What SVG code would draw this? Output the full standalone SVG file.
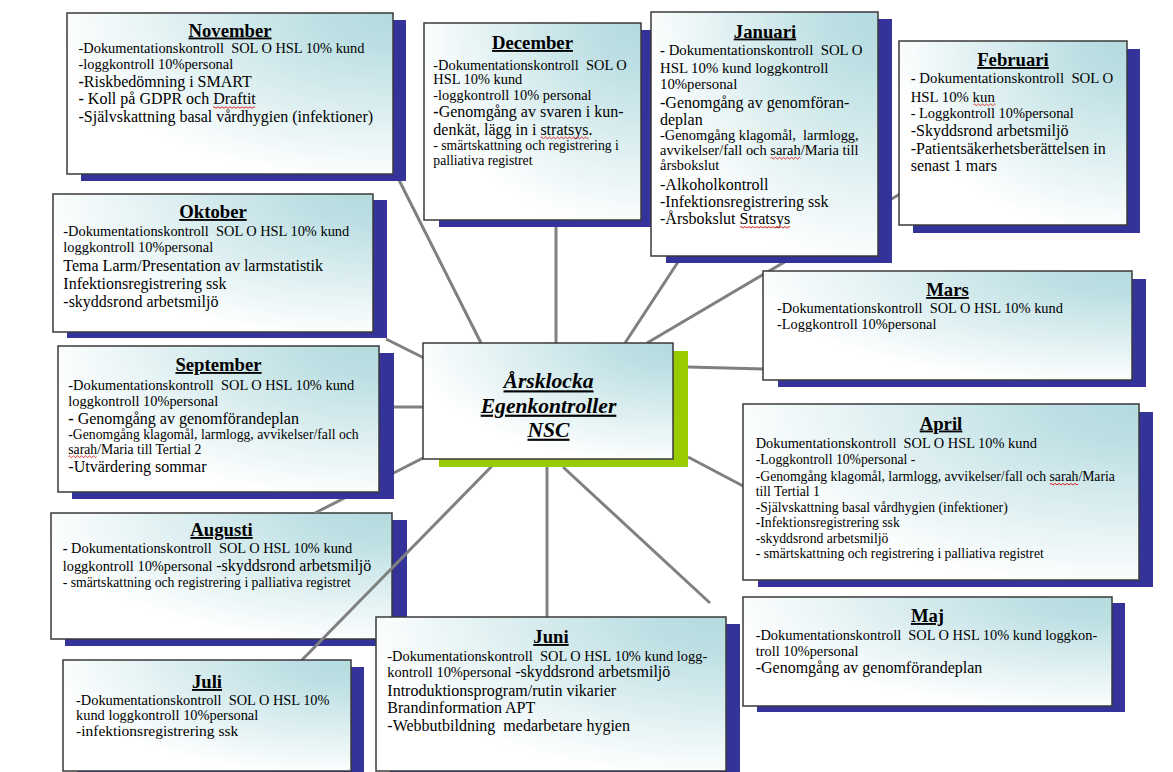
<svg xmlns="http://www.w3.org/2000/svg" width="1173" height="772" viewBox="0 0 1173 772" xml:space="preserve">
<defs>
<radialGradient id="fillg" cx="1" cy="0" r="1.05" fx="1" fy="0" gradientUnits="objectBoundingBox">
<stop offset="0" stop-color="#b5dbdf"/>
<stop offset="0.2" stop-color="#bcdfe3"/>
<stop offset="1" stop-color="#ffffff"/>
</radialGradient>
</defs>
<style>
.box{fill:url(#fillg);stroke:#3a3a3a;stroke-width:1.5}
.sh{fill:#333399}
.shg{fill:#99cc00}
text{font-family:"Liberation Serif","Times New Roman",serif;fill:#000;white-space:pre}
.t{font-size:18.7px;font-weight:bold;text-decoration:underline;text-anchor:middle}
.s{font-size:14.4px}
.xs{font-size:13.7px}
.b{font-size:16px}
.c{font-size:21.6px;font-weight:bold;font-style:italic;text-decoration:underline;text-anchor:middle}
.bd{font-weight:bold}
.con{stroke:#808080;stroke-width:3;fill:none}
.sq{stroke:#e02020;stroke-width:1;fill:none}
</style>
<rect width="1173" height="772" fill="#ffffff"/>

<g id="node-augusti">
<rect class="sh" x="65" y="520" width="342" height="126"/>
<rect class="box" x="51" y="513" width="341" height="126"/>
<text class="t" x="221.5" y="536">Augusti</text>
<text class="s" x="62.7" y="553"><tspan class="bd">-</tspan> Dokumentationskontroll  SOL O HSL 10% kund</text>
<text class="s" x="62.7" y="571">loggkontroll 10%personal <tspan class="b">-skyddsrond arbetsmiljö</tspan></text>
<text class="xs" x="62.7" y="586.5">- smärtskattning och registrering i palliativa registret</text>
</g>

<g id="connectors">
<path class="con" d="M399,180 L481,343"/>
<path class="con" d="M556,226 L556,343"/>
<path class="con" d="M625,343 L678,262"/>
<path class="con" d="M647,343 L900,194"/>
<path class="con" d="M688,367 L765,369"/>
<path class="con" d="M688,457 L745,487"/>
<path class="con" d="M563,467 L710,603"/>
<path class="con" d="M547,462 L547,618"/>
<path class="con" d="M492,466 L300,662"/>
<path class="con" d="M423,458 L315,513"/>
<path class="con" d="M393,407 L424,407"/>
<path class="con" d="M386,339 L424,358"/>
</g>

<g id="node-november">
<rect class="sh" x="81" y="20" width="325" height="161"/>
<rect class="box" x="67" y="13" width="326" height="161"/>
<text class="t" x="230" y="36.5">November</text>
<text class="s" x="78.5" y="53.3">-Dokumentationskontroll  SOL O HSL 10% kund</text>
<text class="s" x="78.5" y="69.3">-loggkontroll 10%personal</text>
<text class="b" x="78.5" y="86.7"><tspan class="bd">-</tspan>Riskbedömning i SMART</text>
<text class="b" x="78.5" y="104.3"><tspan class="bd">-</tspan> Koll på GDPR och Draftit</text>
<text class="b" x="78.5" y="121.7">-Självskattning basal vårdhygien (infektioner)</text>
<path class="sq" d="M213,107.5 q1,-1.6 2,0 t2,0 t2,0 t2,0 t2,0 t2,0 t2,0 t2,0 t2,0 t2,0 t2,0 t2,0 t2,0 t2,0 t2,0 t2,0 t2,0 t2,0 t2,0 t2,0 t2,0"/>
</g>

<g id="node-december">
<rect class="sh" x="439" y="30" width="215" height="197"/>
<rect class="box" x="424" y="23" width="217" height="197"/>
<text class="t" x="532.5" y="49">December</text>
<text class="s" x="433.3" y="69.5">-Dokumentationskontroll  SOL O</text>
<text class="s" x="433.3" y="84">HSL 10% kund</text>
<text class="s" x="433.3" y="99.5">-loggkontroll 10% personal</text>
<text class="b" x="433.3" y="117"><tspan class="bd">-</tspan>Genomgång av svaren i kun-</text>
<text class="b" x="433.3" y="134.5">denkät, lägg in i stratsys.</text>
<text class="xs" x="433.3" y="150">- smärtskattning och registrering i</text>
<text class="xs" x="433.3" y="165">palliativa registret</text>
<path class="sq" d="M540.5,137.8 q1,-1.6 2,0 t2,0 t2,0 t2,0 t2,0 t2,0 t2,0 t2,0 t2,0 t2,0 t2,0 t2,0 t2,0 t2,0 t2,0 t2,0 t2,0 t2,0 t2,0 t2,0 t2,0 t2,0 t2,0 t2,0"/>
</g>

<g id="node-januari">
<rect class="sh" x="666" y="19" width="226" height="244"/>
<rect class="box" x="651" y="12" width="227" height="244"/>
<text class="t" x="765" y="37.5">Januari</text>
<text class="s" x="660" y="55" style="font-size:14.8px"><tspan class="bd">-</tspan> Dokumentationskontroll  SOL O</text>
<text class="s" x="660" y="72.5" style="font-size:14.8px">HSL 10% kund loggkontroll</text>
<text class="s" x="660" y="89" style="font-size:14.8px">10%personal</text>
<text class="b" x="660" y="108">-Genomgång av genomföran-</text>
<text class="b" x="660" y="124.5">deplan</text>
<text class="s" x="660" y="140">-Genomgång klagomål,  larmlogg,</text>
<text class="s" x="660" y="155">avvikelser/fall och sarah/Maria till</text>
<text class="s" x="660" y="170">årsbokslut</text>
<text class="b" x="660" y="190">-Alkoholkontroll</text>
<text class="b" x="660" y="207">-Infektionsregistrering ssk</text>
<text class="b" x="660" y="224">-Årsbokslut Stratsys</text>
<path class="sq" d="M770.5,158.2 q1,-1.6 2,0 t2,0 t2,0 t2,0 t2,0 t2,0 t2,0 t2,0 t2,0 t2,0 t2,0 t2,0 t2,0 t2,0 t2,0"/>
<path class="sq" d="M740,227.3 q1,-1.6 2,0 t2,0 t2,0 t2,0 t2,0 t2,0 t2,0 t2,0 t2,0 t2,0 t2,0 t2,0 t2,0 t2,0 t2,0 t2,0 t2,0 t2,0 t2,0 t2,0 t2,0 t2,0 t2,0 t2,0 t2,0"/>
</g>

<g id="node-februari">
<rect class="sh" x="913" y="49" width="227" height="184"/>
<rect class="box" x="899" y="41" width="228" height="184"/>
<text class="t" x="1013" y="66">Februari</text>
<text class="s" x="910.7" y="83" style="font-size:14.8px"><tspan class="bd">-</tspan> Dokumentationskontroll  SOL O</text>
<text class="s" x="910.7" y="101.5" style="font-size:14.8px">HSL 10% kun</text>
<text class="s" x="910.7" y="118">- Loggkontroll 10%personal</text>
<text class="b" x="910.7" y="135.5">-Skyddsrond arbetsmiljö</text>
<text class="b" x="910.7" y="154">-Patientsäkerhetsberättelsen in</text>
<text class="b" x="910.7" y="171">senast 1 mars</text>
<path class="sq" d="M973.5,104.8 q1,-1.6 2,0 t2,0 t2,0 t2,0 t2,0 t2,0 t2,0 t2,0 t2,0 t2,0 t2,0"/>
</g>

<g id="node-oktober">
<rect class="sh" x="67" y="200" width="320" height="138"/>
<rect class="box" x="53" y="194" width="320" height="138"/>
<text class="t" x="213" y="218">Oktober</text>
<text class="s" x="63.3" y="236">-Dokumentationskontroll  SOL O HSL 10% kund</text>
<text class="s" x="63.3" y="252">loggkontroll 10%personal</text>
<text class="b" x="63.3" y="271">Tema Larm/Presentation av larmstatistik</text>
<text class="b" x="63.3" y="289">Infektionsregistrering ssk</text>
<text class="b" x="63.3" y="307">-skyddsrond arbetsmiljö</text>
</g>

<g id="node-september">
<rect class="sh" x="72" y="353" width="322" height="146"/>
<rect class="box" x="58" y="346" width="321" height="146"/>
<text class="t" x="218.5" y="371">September</text>
<text class="s" x="68.3" y="389.5">-Dokumentationskontroll  SOL O HSL 10% kund</text>
<text class="s" x="68.3" y="405.5">loggkontroll 10%personal</text>
<text class="b" x="68.3" y="423.5"><tspan class="bd">-</tspan> Genomgång av genomförandeplan</text>
<text class="xs" x="68.3" y="438.5">-Genomgång klagomål, larmlogg, avvikelser/fall och</text>
<text class="xs" x="68.3" y="453.5">sarah/Maria till Tertial 2</text>
<text class="b" x="68.3" y="472">-Utvärdering sommar</text>
<path class="sq" d="M68.5,456.7 q1,-1.6 2,0 t2,0 t2,0 t2,0 t2,0 t2,0 t2,0 t2,0 t2,0 t2,0 t2,0 t2,0 t2,0 t2,0"/>
</g>

<g id="node-juli">
<rect class="sh" x="77" y="667" width="287" height="110"/>
<rect class="box" x="63" y="660" width="288" height="111"/>
<text class="t" x="207" y="688">Juli</text>
<text class="s" x="76" y="704.5">-Dokumentationskontroll  SOL O HSL 10%</text>
<text class="s" x="76" y="720">kund loggkontroll 10%personal</text>
<text class="b" x="76" y="736" style="font-size:15.5px">-infektionsregistrering ssk</text>
</g>

<g id="node-juni">
<rect class="sh" x="390" y="624" width="350" height="154"/>
<rect class="box" x="376" y="617" width="350" height="154"/>
<text class="t" x="551" y="643">Juni</text>
<text class="s" x="387.3" y="660.5">-Dokumentationskontroll  SOL O HSL 10% kund logg-</text>
<text class="s" x="387.3" y="677">kontroll 10%personal <tspan class="b">-skyddsrond arbetsmiljö</tspan></text>
<text class="b" x="387.3" y="695.5">Introduktionsprogram/rutin vikarier</text>
<text class="b" x="387.3" y="713">Brandinformation APT</text>
<text class="b" x="387.3" y="730.5">-Webbutbildning  medarbetare hygien</text>
</g>

<g id="node-maj">
<rect class="sh" x="757" y="603" width="368" height="109"/>
<rect class="box" x="743" y="597" width="369" height="109"/>
<text class="t" x="927.5" y="622">Maj</text>
<text class="s" x="755.7" y="640">-Dokumentationskontroll  SOL O HSL 10% kund loggkon-</text>
<text class="s" x="755.7" y="656">troll 10%personal</text>
<text class="b" x="755.7" y="672.5">-Genomgång av genomförandeplan</text>
</g>

<g id="node-april">
<rect class="sh" x="758" y="412" width="395" height="175"/>
<rect class="box" x="743" y="404" width="396" height="176"/>
<text class="t" x="941" y="429.5">April</text>
<text class="s" x="755.7" y="448">Dokumentationskontroll  SOL O HSL 10% kund</text>
<text class="xs" x="755.7" y="464">-Loggkontroll 10%personal -</text>
<text class="xs" x="755.7" y="481">-Genomgång klagomål, larmlogg, avvikelser/fall och sarah/Maria</text>
<text class="xs" x="755.7" y="496">till Tertial 1</text>
<text class="xs" x="755.7" y="511.5">-Självskattning basal vårdhygien (infektioner)</text>
<text class="xs" x="755.7" y="527">-Infektionsregistrering ssk</text>
<text class="xs" x="755.7" y="542.5">-skyddsrond arbetsmiljö</text>
<text class="xs" x="755.7" y="558">- smärtskattning och registrering i palliativa registret</text>
<path class="sq" d="M1050,484.2 q1,-1.6 2,0 t2,0 t2,0 t2,0 t2,0 t2,0 t2,0 t2,0 t2,0 t2,0 t2,0 t2,0 t2,0 t2,0"/>
</g>

<g id="node-mars">
<rect class="sh" x="778" y="279" width="368" height="108"/>
<rect class="box" x="763" y="271" width="369" height="109"/>
<text class="t" x="947.5" y="296">Mars</text>
<text class="s" x="777" y="312.5">-Dokumentationskontroll  SOL O HSL 10% kund</text>
<text class="s" x="777" y="329">-Loggkontroll 10%personal</text>
</g>

<g id="node-center">
<rect class="shg" x="439" y="351" width="249" height="116"/>
<rect class="box" x="423" y="343" width="250" height="116"/>
<text class="c" x="548.5" y="388.3">Årsklocka</text>
<text class="c" x="548.5" y="412.7">Egenkontroller</text>
<text class="c" x="548.5" y="436.7">NSC</text>
</g>
</svg>
